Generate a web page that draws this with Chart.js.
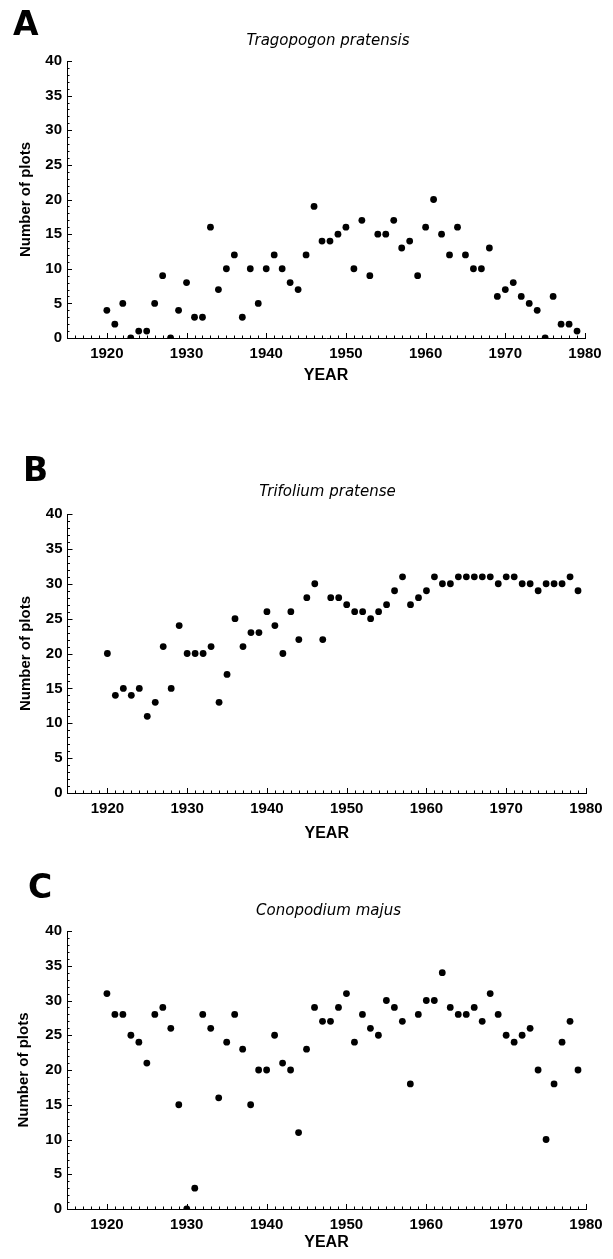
<!DOCTYPE html>
<html><head><meta charset="utf-8">
<script src="https://cdn.jsdelivr.net/npm/chart.js@4/dist/chart.umd.min.js"></script>
<style>
body{margin:0;background:#fff;}
#wrap{position:relative;width:613px;height:1259px;background:#fff;}
canvas{position:absolute;left:0;}
</style></head><body>
<div id="wrap">
<canvas id="cA" width="613" height="400" style="top:0px"></canvas>
<canvas id="cB" width="613" height="445" style="top:400px"></canvas>
<canvas id="cC" width="613" height="414" style="top:845px"></canvas>
</div>
<script>
const years = [1920,1921,1922,1923,1924,1925,1926,1927,1928,1929,
               1930,1931,1932,1933,1934,1935,1936,1937,1938,1939,
               1940,1941,1942,1943,1944,1945,1946,1947,1948,1949,
               1950,1951,1952,1953,1954,1955,1956,1957,1958,1959,
               1960,1961,1962,1963,1964,1965,1966,1967,1968,1969,
               1970,1971,1972,1973,1974,1975,1976,1977,1978,1979];
const tragopogon = [4,2,5,0,1,1,5,9,0,4, 8,3,3,16,7,10,12,3,10,5, 10,12,10,8,7,12,19,14,14,15,
                    16,10,17,9,15,15,17,13,14,9, 16,20,15,12,16,12,10,10,13,6, 7,8,6,5,4,0,6,2,2,1];
const trifolium = [20,14,15,14,15,11,13,21,15,24, 20,20,20,21,13,17,25,21,23,23, 26,24,20,26,22,28,30,22,28,28,
                   27,26,26,25,26,27,29,31,27,28, 29,31,30,30,31,31,31,31,31,30, 31,31,30,30,29,30,30,30,31,29];
const conopodium = [31,28,28,25,24,21,28,29,26,15, 0,3,28,26,16,24,28,23,15,20, 20,25,21,20,11,23,29,27,27,29,
                    31,24,28,26,25,30,29,27,18,28, 30,30,34,29,28,28,29,27,31,28, 25,24,25,26,20,10,18,24,27,20];
const xTickLabels = [1920,1930,1940,1950,1960,1970,1980];
const yTickLabels = [0,5,10,15,20,25,30,35,40];
const panelLetters = ['A','B','C'];
const speciesNames = ['Tragopogon pratensis','Trifolium pratense','Conopodium majus'];
const xAxisTitle = 'YEAR';
const yAxisTitle = 'Number of plots';

const FONT = '"DejaVu Sans", "Liberation Sans", Arial, sans-serif';
const TICKFONT = '"Liberation Sans", Arial, sans-serif';

// layout (canvas-local coordinates)
const panels = [
  {id:'cA', series:tragopogon, area:{left:67,top:61,right:585,bottom:338}, letter:{x:13,y:35}, title:{x:328,y:45}, yearY:376, ytitleX:26},
  {id:'cB', series:trifolium,  area:{left:67.5,top:114,right:586,bottom:393}, letter:{x:23,y:81}, title:{x:327.5,y:96}, yearY:434, ytitleX:26},
  {id:'cC', series:conopodium, area:{left:67,top:86,right:586,bottom:364}, letter:{x:28,y:53}, title:{x:328.5,y:70}, yearY:398, ytitleX:24}
];

const decor = {
  id:'decor',
  beforeDatasetsDraw(chart, args, opts){
    const {ctx, chartArea:a, scales:{x, y}} = chart;
    ctx.save();
    ctx.strokeStyle = '#000';
    ctx.lineWidth = 1;
    ctx.beginPath();
    for (let v = 0; v <= 40; v++) {
      const py = Math.round(y.getPixelForValue(v)) + 0.5;
      const len = (v % 5 === 0) ? 5 : 2.5;
      ctx.moveTo(a.left, py); ctx.lineTo(a.left + len, py);
    }
    for (let v = 1916; v <= 1980; v++) {
      const px = Math.round(x.getPixelForValue(v)) + 0.5;
      const len = (v % 10 === 0) ? 5 : 2.5;
      ctx.moveTo(px, a.bottom); ctx.lineTo(px, a.bottom - len);
    }
    ctx.stroke();
    ctx.restore();
  },
  afterDraw(chart, args, opts){
    const ctx = chart.ctx;
    ctx.save();
    ctx.fillStyle = '#000';
    ctx.textBaseline = 'alphabetic';
    ctx.textAlign = 'left';
    ctx.font = 'bold 33px ' + FONT;
    ctx.fillText(opts.letter, opts.lx, opts.ly);
    ctx.textAlign = 'center';
    ctx.font = 'italic 15px ' + FONT;
    ctx.fillText(opts.title, opts.tx, opts.ty);
    ctx.restore();
  }
};

panels.forEach((p, i) => {
  const canvas = document.getElementById(p.id);
  const W = canvas.width, H = canvas.height;
  const xtFont = 16, ytFont = 15;
  const XH = (p.yearY + xtFont * 1.2 / 2 + 2) - p.area.bottom;
  new Chart(canvas, {
    type: 'scatter',
    data: {
      datasets: [{
        data: years.map((yr, k) => ({x: yr, y: p.series[k]})),
        pointRadius: 3.4,
        pointHoverRadius: 3.4,
        pointBackgroundColor: '#000',
        pointBorderWidth: 0,
        showLine: false,
        clip: 0
      }]
    },
    options: {
      responsive: false,
      animation: false,
      events: [],
      layout: {padding: {top: p.area.top, left: 0, right: W - p.area.right, bottom: H - p.area.bottom - XH}},
      plugins: {
        legend: {display: false},
        tooltip: {enabled: false},
        decor: {letter: panelLetters[i], lx: p.letter.x, ly: p.letter.y, title: speciesNames[i], tx: p.title.x, ty: p.title.y}
      },
      scales: {
        x: {
          type: 'linear', min: 1915, max: 1980,
          afterBuildTicks: s => { s.ticks = xTickLabels.map(v => ({value: v})); },
          afterFit: s => { s.height = XH; },
          grid: {display: false, drawTicks: false},
          border: {display: true, color: '#000', width: 1},
          ticks: {color: '#000', font: {family: TICKFONT, size: 15, weight: 'bold'}, padding: 7, maxRotation: 0, autoSkip: false, callback: v => String(v)},
          title: {display: true, text: xAxisTitle, color: '#000', font: {family: TICKFONT, size: xtFont, weight: 'bold'}, padding: {top: 0, bottom: 2}}
        },
        y: {
          type: 'linear', min: 0, max: 40,
          afterBuildTicks: s => { s.ticks = yTickLabels.map(v => ({value: v})); },
          afterFit: s => { s.width = p.area.left; },
          grid: {display: false, drawTicks: false},
          border: {display: true, color: '#000', width: 1},
          ticks: {color: '#000', font: {family: TICKFONT, size: 15, weight: 'bold'}, padding: 5, callback: v => String(v)},
          title: {display: true, text: yAxisTitle, color: '#000', font: {family: TICKFONT, size: ytFont, weight: 'bold'}, padding: {top: p.ytitleX - ytFont * 1.2 / 2, bottom: 0}}
        }
      }
    },
    plugins: [decor]
  });
});
</script>
</body></html>
